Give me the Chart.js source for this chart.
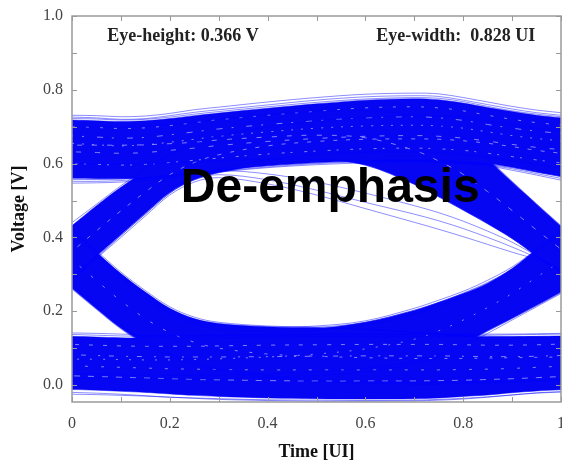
<!DOCTYPE html>
<html>
<head>
<meta charset="utf-8">
<script src="https://cdn.jsdelivr.net/npm/chart.js@4.4.1/dist/chart.umd.min.js"></script>
<style>
  html, body { margin: 0; padding: 0; background: #fff; }
  canvas { display: block; }
</style>
</head>
<body>
<canvas id="eye" width="562" height="465"></canvas>
<script>
// ── sample times (UI) shared by every trace ──
const times = [0, 0.05, 0.1, 0.15, 0.2, 0.25, 0.3, 0.4, 0.5, 0.6, 0.7, 0.75, 0.8, 0.85, 0.9, 0.95, 1];

// ── dense bands (bottom / top envelopes, V) ──
const highBandBot  = [0.560, 0.559, 0.559, 0.562, 0.568, 0.575, 0.582, 0.594, 0.603, 0.608, 0.610, 0.609, 0.606, 0.600, 0.590, 0.577, 0.565];
const highBandTop  = [0.718, 0.716, 0.714, 0.716, 0.722, 0.730, 0.737, 0.750, 0.762, 0.772, 0.776, 0.773, 0.764, 0.752, 0.741, 0.731, 0.724];
const riseLBandBot = [0.292, 0.350, 0.408, 0.466, 0.522, 0.556, 0.575, 0.598, 0.610, 0.616, 0.618, 0.617, 0.614, 0.608, 0.600, 0.590, 0.580];
const riseLBandTop = [0.432, 0.486, 0.536, 0.580, 0.618, 0.648, 0.668, 0.690, 0.700, 0.704, 0.704, 0.702, 0.698, 0.690, 0.680, 0.670, 0.662];
const fallRBandBot = [0.600, 0.600, 0.600, 0.600, 0.602, 0.605, 0.608, 0.612, 0.612, 0.596, 0.544, 0.510, 0.474, 0.437, 0.397, 0.350, 0.305];
const fallRBandTop = [0.700, 0.700, 0.700, 0.702, 0.706, 0.712, 0.720, 0.732, 0.742, 0.744, 0.728, 0.704, 0.668, 0.612, 0.550, 0.490, 0.430];
const lowBandBot   = [-0.012, -0.014, -0.017, -0.020, -0.024, -0.028, -0.031, -0.035, -0.037, -0.038, -0.037, -0.035, -0.031, -0.027, -0.021, -0.016, -0.013];
const lowBandTop   = [0.132, 0.130, 0.128, 0.127, 0.127, 0.127, 0.128, 0.130, 0.131, 0.131, 0.131, 0.131, 0.131, 0.131, 0.131, 0.132, 0.133];
const fallLBandBot = [0.262, 0.207, 0.154, 0.112, 0.078, 0.054, 0.038, 0.018, 0.008, 0.003, 0.000, 0.000, 0.000, 0.000, 0.000, 0.000, 0.000];
const fallLBandTop = [0.418, 0.360, 0.302, 0.252, 0.208, 0.180, 0.167, 0.158, 0.155, 0.150, 0.142, 0.137, 0.133, 0.130, 0.130, 0.130, 0.130];
const riseRBandBot = [0.030, 0.030, 0.028, 0.027, 0.026, 0.026, 0.027, 0.030, 0.036, 0.046, 0.064, 0.085, 0.113, 0.147, 0.181, 0.216, 0.252];
const riseRBandTop = [0.110, 0.110, 0.110, 0.110, 0.112, 0.118, 0.126, 0.140, 0.152, 0.170, 0.202, 0.224, 0.248, 0.276, 0.316, 0.368, 0.420];

// ── single traces on the band edges and across the eye (V) ──
const edgeTraces = [
  // high rail, upper edge
  [0.731, 0.730, 0.727, 0.729, 0.736, 0.746, 0.753, 0.767, 0.779, 0.788, 0.791, 0.789, 0.779, 0.767, 0.755, 0.745, 0.738],
  [0.726, 0.724, 0.720, 0.722, 0.730, 0.739, 0.746, 0.759, 0.772, 0.781, 0.784, 0.782, 0.772, 0.760, 0.748, 0.738, 0.731],
  [0.722, 0.721, 0.718, 0.720, 0.726, 0.734, 0.741, 0.754, 0.766, 0.775, 0.779, 0.777, 0.768, 0.755, 0.743, 0.734, 0.727],
  // high rail, lower edge
  [0.547, 0.548, 0.550, 0.555, 0.562, 0.570, 0.577, 0.589, 0.597, 0.602, 0.604, 0.603, 0.600, 0.594, 0.582, 0.569, 0.555],
  [0.552, 0.552, 0.554, 0.559, 0.565, 0.572, 0.579, 0.591, 0.600, 0.605, 0.606, 0.605, 0.602, 0.596, 0.586, 0.573, 0.560],
  [0.557, 0.557, 0.558, 0.562, 0.568, 0.575, 0.582, 0.594, 0.602, 0.607, 0.608, 0.607, 0.604, 0.598, 0.589, 0.577, 0.565],
  // low rail, upper edge
  [0.141, 0.140, 0.138, 0.136, 0.135, 0.135, 0.136, 0.137, 0.138, 0.138, 0.138, 0.138, 0.138, 0.138, 0.138, 0.139, 0.140],
  [0.137, 0.135, 0.133, 0.132, 0.132, 0.133, 0.134, 0.135, 0.136, 0.136, 0.136, 0.135, 0.135, 0.135, 0.136, 0.137, 0.138],
  // low rail, lower edge
  [-0.020, -0.022, -0.025, -0.029, -0.033, -0.036, -0.039, -0.042, -0.044, -0.044, -0.043, -0.041, -0.038, -0.033, -0.027, -0.021, -0.018],
  [-0.025, -0.026, -0.028, -0.030, -0.033, -0.035, -0.037, -0.040, -0.041, -0.042, -0.041, -0.039, -0.036, -0.032, -0.027, -0.022, -0.019],
  // rising at left
  [0.440, 0.490, 0.540, 0.585, 0.625, 0.655, 0.675, 0.700, 0.715, 0.725, 0.730, 0.730, 0.725, 0.715, 0.705, 0.695, 0.688],
  [0.285, 0.345, 0.405, 0.463, 0.520, 0.560, 0.585, 0.610, 0.625, 0.630, 0.632, 0.630, 0.625, 0.618, 0.608, 0.598, 0.588],
  // falling at left
  [0.260, 0.205, 0.152, 0.110, 0.078, 0.055, 0.040, 0.020, 0.010, 0.005, 0.003, 0.003, 0.004, 0.006, 0.008, 0.010, 0.012],
  [0.270, 0.215, 0.162, 0.118, 0.085, 0.062, 0.046, 0.026, 0.015, 0.010, 0.008, 0.008, 0.009, 0.010, 0.012, 0.014, 0.016],
  [0.422, 0.364, 0.306, 0.256, 0.212, 0.184, 0.170, 0.160, 0.157, 0.152, 0.144, 0.139, 0.135, 0.132, 0.131, 0.131, 0.131],
  // falling at right
  [0.700, 0.700, 0.700, 0.702, 0.706, 0.712, 0.720, 0.732, 0.742, 0.744, 0.730, 0.706, 0.670, 0.614, 0.552, 0.491, 0.432],
  [0.600, 0.600, 0.600, 0.600, 0.602, 0.605, 0.608, 0.612, 0.612, 0.596, 0.544, 0.510, 0.474, 0.437, 0.397, 0.350, 0.305],
  // rising at right
  [0.030, 0.030, 0.028, 0.027, 0.026, 0.026, 0.027, 0.030, 0.036, 0.046, 0.064, 0.084, 0.112, 0.146, 0.180, 0.215, 0.250],
  [0.020, 0.020, 0.018, 0.017, 0.016, 0.016, 0.017, 0.020, 0.026, 0.036, 0.056, 0.078, 0.106, 0.140, 0.176, 0.212, 0.248],
  // isolated ones (top of the eye)
  [0.290, 0.348, 0.406, 0.464, 0.520, 0.556, 0.570, 0.556, 0.528, 0.495, 0.463, 0.445, 0.424, 0.400, 0.374, 0.345, 0.310],
  [0.295, 0.352, 0.410, 0.468, 0.526, 0.563, 0.580, 0.572, 0.550, 0.520, 0.486, 0.467, 0.444, 0.417, 0.387, 0.350, 0.312],
  [0.285, 0.343, 0.400, 0.458, 0.515, 0.550, 0.562, 0.545, 0.515, 0.478, 0.441, 0.422, 0.402, 0.381, 0.360, 0.340, 0.312],
  // isolated zeros (bottom of the eye)
  [0.420, 0.360, 0.300, 0.250, 0.205, 0.178, 0.165, 0.157, 0.160, 0.174, 0.208, 0.230, 0.254, 0.284, 0.320, 0.368, 0.420],
  [0.415, 0.356, 0.298, 0.246, 0.200, 0.172, 0.160, 0.152, 0.156, 0.170, 0.203, 0.224, 0.249, 0.278, 0.314, 0.364, 0.416],
  [0.405, 0.348, 0.290, 0.238, 0.192, 0.165, 0.152, 0.145, 0.148, 0.162, 0.193, 0.214, 0.238, 0.268, 0.305, 0.357, 0.410],
];

// ── lighter traces that show through inside the dense bands ──
const innerTraces = [
  [0.700, 0.698, 0.695, 0.697, 0.703, 0.711, 0.719, 0.731, 0.742, 0.751, 0.754, 0.751, 0.743, 0.731, 0.720, 0.711, 0.705],
  [0.675, 0.672, 0.669, 0.671, 0.678, 0.686, 0.694, 0.706, 0.716, 0.724, 0.727, 0.724, 0.717, 0.706, 0.696, 0.688, 0.682],
  [0.655, 0.651, 0.648, 0.651, 0.658, 0.666, 0.674, 0.686, 0.696, 0.702, 0.704, 0.702, 0.696, 0.686, 0.676, 0.668, 0.662],
  [0.632, 0.630, 0.628, 0.630, 0.636, 0.642, 0.649, 0.660, 0.668, 0.674, 0.676, 0.674, 0.669, 0.661, 0.652, 0.644, 0.638],
  [0.600, 0.598, 0.596, 0.598, 0.603, 0.609, 0.615, 0.626, 0.634, 0.640, 0.642, 0.640, 0.636, 0.628, 0.619, 0.610, 0.602],
  [0.110, 0.108, 0.106, 0.105, 0.105, 0.105, 0.106, 0.108, 0.109, 0.110, 0.110, 0.110, 0.109, 0.108, 0.108, 0.109, 0.111],
  [0.082, 0.080, 0.078, 0.077, 0.076, 0.076, 0.076, 0.077, 0.078, 0.079, 0.079, 0.079, 0.078, 0.077, 0.077, 0.078, 0.080],
  [0.052, 0.050, 0.048, 0.046, 0.044, 0.043, 0.042, 0.041, 0.041, 0.041, 0.041, 0.041, 0.042, 0.043, 0.045, 0.048, 0.051],
  [0.025, 0.023, 0.021, 0.019, 0.017, 0.015, 0.014, 0.012, 0.011, 0.011, 0.011, 0.012, 0.013, 0.015, 0.017, 0.020, 0.023],
  // inside the transition bands
  [0.362, 0.418, 0.472, 0.523, 0.570, 0.603, 0.624, 0.648, 0.660, 0.666, 0.667, 0.666, 0.662, 0.655, 0.646, 0.636, 0.628],
  [0.340, 0.283, 0.228, 0.180, 0.142, 0.116, 0.100, 0.084, 0.078, 0.074, 0.072, 0.072, 0.072, 0.073, 0.074, 0.075, 0.076],
  [0.650, 0.650, 0.650, 0.651, 0.654, 0.658, 0.664, 0.672, 0.677, 0.670, 0.636, 0.607, 0.571, 0.524, 0.473, 0.420, 0.368],
  [0.070, 0.070, 0.069, 0.068, 0.068, 0.069, 0.071, 0.076, 0.084, 0.098, 0.124, 0.147, 0.176, 0.210, 0.248, 0.292, 0.336],
];
const innerDashes = [[3, 11], [6, 9, 2, 13], [2, 8], [5, 14], [3, 6, 2, 12], [4, 10], [2, 9, 5, 12], [3, 13], [6, 8], [4, 9], [3, 12], [5, 10], [2, 11]];

// ── axes ──
const xTickValues = [0, 0.1, 0.2, 0.3, 0.4, 0.5, 0.6, 0.7, 0.8, 0.9, 1];
const yTickValues = [0, 0.1, 0.2, 0.3, 0.4, 0.5, 0.6, 0.7, 0.8, 0.9, 1.0];
const yMin = -0.046, yMax = 1.0;

const notes = [
  { text: 'Eye-height: 0.366 V', x: 0.227, y: 0.945, font: 'bold 18px "Liberation Serif"', color: '#222' },
  { text: 'Eye-width:  0.828 UI', x: 0.785, y: 0.945, font: 'bold 18px "Liberation Serif"', color: '#222' },
  { text: 'De-emphasis', x: 0.528, y: 0.532, font: 'bold 48px "Liberation Sans"', color: '#000' },
];

const DENSE = 'rgb(6,6,242)';
const EDGE = 'rgba(0,0,255,0.45)';
const INNER = 'rgba(160,160,255,0.8)';

const pts = ys => times.map((t, i) => ({ x: t, y: ys[i] }));

const datasets = [];
[
  [highBandBot, highBandTop], [riseLBandBot, riseLBandTop], [fallRBandBot, fallRBandTop],
  [lowBandBot, lowBandTop], [fallLBandBot, fallLBandTop], [riseRBandBot, riseRBandTop],
].forEach(([bot, top]) => {
  datasets.push({ data: pts(bot), borderColor: EDGE, borderWidth: 1, fill: false, order: 3 });
  datasets.push({ data: pts(top), borderColor: EDGE, borderWidth: 1, fill: '-1', backgroundColor: DENSE, order: 3 });
});
innerTraces.forEach((ys, k) => {
  datasets.push({ data: pts(ys), borderColor: INNER, borderWidth: 1, borderDash: innerDashes[k], borderDashOffset: k * 5, fill: false, order: 2 });
});
edgeTraces.forEach(ys => {
  datasets.push({ data: pts(ys), borderColor: EDGE, borderWidth: 1, fill: false, order: 1 });
});

// frame, inward ticks (all four sides) and the text notes
const frameAndNotes = {
  id: 'frameAndNotes',
  afterDraw(chart) {
    const { ctx, chartArea: a, scales: { x, y } } = chart;
    ctx.save();
    ctx.strokeStyle = '#9a9a9a';
    ctx.lineWidth = 1.5;
    ctx.strokeRect(a.left, a.top, a.right - a.left, a.bottom - a.top);
    ctx.lineWidth = 1;
    ctx.beginPath();
    xTickValues.forEach(v => {
      const px = Math.round(x.getPixelForValue(v)) + 0.5;
      ctx.moveTo(px, a.bottom); ctx.lineTo(px, a.bottom - 5);
      ctx.moveTo(px, a.top); ctx.lineTo(px, a.top + 5);
    });
    yTickValues.forEach(v => {
      const py = Math.round(y.getPixelForValue(v)) + 0.5;
      ctx.moveTo(a.left, py); ctx.lineTo(a.left + 5, py);
      ctx.moveTo(a.right, py); ctx.lineTo(a.right - 5, py);
    });
    ctx.stroke();
    ctx.textAlign = 'center';
    ctx.textBaseline = 'middle';
    notes.forEach(n => {
      ctx.font = n.font;
      ctx.fillStyle = n.color;
      ctx.fillText(n.text, x.getPixelForValue(n.x), y.getPixelForValue(n.y));
    });
    ctx.restore();
  },
};

new Chart(document.getElementById('eye'), {
  type: 'line',
  data: { datasets },
  options: {
    responsive: false,
    animation: false,
    layout: { padding: { top: 16, right: 1, left: 0, bottom: 2 } },
    elements: { point: { radius: 0 }, line: { tension: 0.35 } },
    plugins: { legend: { display: false }, tooltip: { enabled: false } },
    scales: {
      x: {
        type: 'linear', min: 0, max: 1,
        grid: { display: false, drawTicks: false },
        border: { display: false },
        ticks: {
          stepSize: 0.2, padding: 12, color: '#444', maxRotation: 0,
          font: { family: 'Liberation Serif', size: 16 },
          callback: v => String(+v.toFixed(1)),
        },
        title: { display: true, text: 'Time [UI]', color: '#111', font: { family: 'Liberation Serif', size: 18, weight: 'bold' }, padding: { top: 6, bottom: 0 } },
        afterFit: s => { s.height = 61; s.paddingLeft = 0; s.paddingRight = 0; },
      },
      y: {
        min: yMin, max: yMax,
        grid: { display: false, drawTicks: false },
        border: { display: false },
        ticks: {
          stepSize: 0.2, padding: 9, color: '#444', includeBounds: false,
          font: { family: 'Liberation Serif', size: 16 },
          callback: v => v.toFixed(1),
        },
        title: { display: true, text: 'Voltage [V]', color: '#111', font: { family: 'Liberation Serif', size: 18, weight: 'bold' }, padding: { top: 9, bottom: 0 } },
        afterFit: s => { s.width = 72; s.paddingTop = 0; s.paddingBottom = 0; },
      },
    },
  },
  plugins: [frameAndNotes],
});
</script>
</body>
</html>
